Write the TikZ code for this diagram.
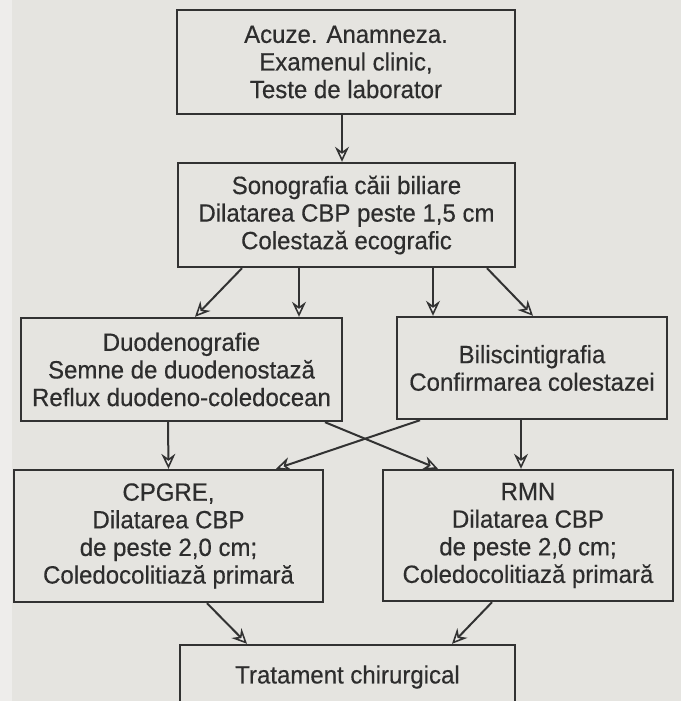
\documentclass[tikz,border=0pt]{standalone}
\usepackage{fontspec}
\setmainfont{Liberation Sans}[FakeStretch=0.96, FakeBold=0.4]
\usetikzlibrary{arrows.meta,calc}
\definecolor{paper}{RGB}{229,228,224}
\definecolor{paperedge}{RGB}{238,237,235}
\definecolor{ink}{RGB}{50,50,50}
\definecolor{tink}{RGB}{45,45,45}
\tikzset{
  box/.style={draw=ink, line width=2.4pt, rectangle, inner sep=0pt, align=center,
    text=tink, font=\fontsize{25}{27.6}\selectfont},
  txt/.style={inner sep=0pt, align=center, text=tink, font=\fontsize{25}{27.6}\selectfont},
  arr/.style={draw=ink, line width=2pt,
    -{Stealth[open, length=15pt, width=14pt, inset=5pt, line width=1.6pt, fill=paperedge]}}
}
\begin{document}
\begin{tikzpicture}[x=1pt,y=-1pt]
\useasboundingbox (0,0) rectangle (681,701);
\clip (0,0) rectangle (681,701);
\fill[paper] (0,0) rectangle (681,701);
\fill[paperedge] (0,0) rectangle (12,701);

\node[box, minimum width=338pt, minimum height=104pt] (b1) at (346,62)
  {Acuze. Anamneza.\\Examenul clinic,\\Teste de laborator};
\node[box, minimum width=337pt, minimum height=104pt] (b2) at (346.5,215)
  {Sonografia căii biliare\\Dilatarea CBP peste 1,5 cm\\Colestază ecografic};
\node[box, minimum width=321pt, minimum height=103pt] (b3) at (181.5,369.5)
  {Duodenografie\\Semne de duodenostază\\Reflux duodeno-coledocean};
\node[box, minimum width=270pt, minimum height=102pt] (b4) at (532,368)
  {Biliscintigrafia\\Confirmarea colestazei};
\node[box, minimum width=309pt, minimum height=132pt] (b5) at (168.5,536)
  {CPGRE,\\Dilatarea CBP\\de peste 2,0 cm;\\Coledocolitiază primară};
\node[box, minimum width=290pt, minimum height=131pt] (b6) at (528,535.5)
  {RMN\\Dilatarea CBP\\de peste 2,0 cm;\\Coledocolitiază primară};
\node[box, minimum width=335pt, minimum height=90pt] (b7) at (347.5,690) {};
\node[txt] (b7t) at (347.5,677) {Tratament chirurgical};

\draw[arr] ([xshift=-4pt]b1.south) -- ([xshift=-4.5pt]b2.north);

\draw[arr] ([xshift=-104.5pt]b2.south) -- ([xshift=13.5pt]b3.north);
\draw[arr] ([xshift=-47.5pt]b2.south) -- ([xshift=117.5pt]b3.north);
\draw[arr] ([xshift=86.5pt]b2.south) -- ([xshift=-99pt]b4.north);
\draw[arr] ([xshift=140.5pt]b2.south) -- ([xshift=1pt]b4.north);

\draw[arr] ([xshift=-13.5pt]b3.south) -- (b5.north);
\draw[arr] ([xshift=143.5pt]b3.south) -- ([xshift=-90pt]b6.north);
\draw[arr] ([xshift=-112pt]b4.south) -- ([xshift=107.5pt]b5.north);
\draw[arr] ([xshift=-11pt]b4.south) -- ([xshift=-7pt]b6.north);

\draw[arr] ([xshift=38.5pt]b5.south) -- ([xshift=-100.5pt]b7.north);
\draw[arr] ([xshift=-36pt]b6.south) -- ([xshift=104.5pt]b7.north);
\end{tikzpicture}
\end{document}
